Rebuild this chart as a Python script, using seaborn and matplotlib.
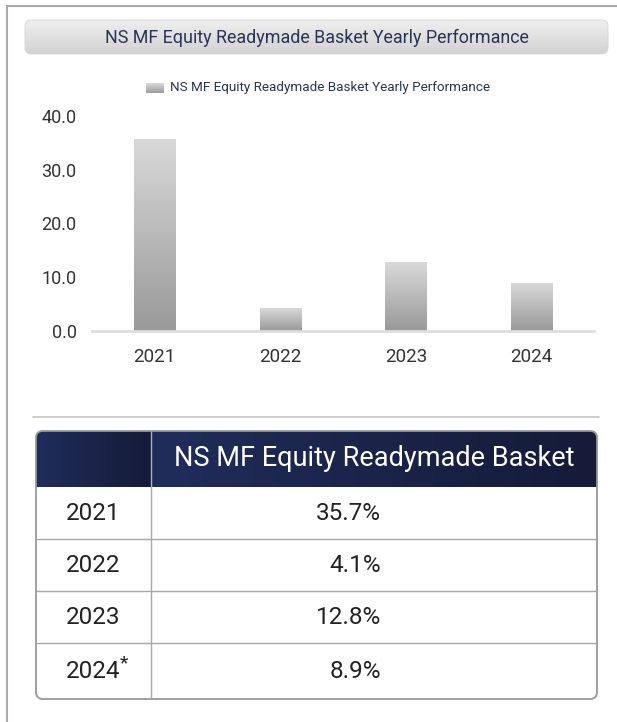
import numpy as np
import pandas as pd
import seaborn as sns
import matplotlib.pyplot as plt
from matplotlib.patches import FancyBboxPatch

# --- data ---
years = ["2021", "2022", "2023", "2024"]
returns = [35.7, 4.1, 12.8, 8.9]
table_years = ["2021", "2022", "2023", "2024"]
table_notes = ["", "", "", "*"]
table_values = ["35.7%", "4.1%", "12.8%", "8.9%"]
series_name = "NS MF Equity Readymade Basket Yearly Performance"
column_name = "NS MF Equity Readymade Basket"
y_ticks = [0, 10, 20, 30, 40]

sns.set_style("white")
plt.rcParams["font.family"] = ["Roboto", "DejaVu Sans"]

W, H = 617, 722
NAVY = "#2b3356"


def vgrad(c_top, c_bot, n=256):
    a = np.array(plt.matplotlib.colors.to_rgb(c_top))
    b = np.array(plt.matplotlib.colors.to_rgb(c_bot))
    t = np.linspace(0, 1, n)[:, None]
    return (a + (b - a) * t)[:, None, :]


def hgrad(c_left, c_right, n=256):
    return vgrad(c_left, c_right, n).transpose(1, 0, 2)


fig = plt.figure(figsize=(W / 100, H / 100), dpi=100)

# background layer in pixel coordinates
bg = fig.add_axes([0, 0, 1, 1])
bg.set_xlim(0, W)
bg.set_ylim(H, 0)
bg.axis("off")

# outer frame (only top and left visible)
bg.plot([7, W + 5], [5.5, 5.5], color="#aaaaaa", lw=1.5, solid_capstyle="butt")
bg.plot([7, 7], [5, H + 5], color="#aaaaaa", lw=1.5, solid_capstyle="butt")

# title box
tbox = FancyBboxPatch((25, 20), 583, 34, boxstyle="round,pad=0,rounding_size=6",
                      facecolor="none", edgecolor="#d6d6d6", lw=0.6, zorder=2)
bg.add_patch(tbox)
im = bg.imshow(vgrad("#efefef", "#d2d2d2"), extent=(25, 608, 54, 20),
               aspect="auto", zorder=1, interpolation="bilinear")
im.set_clip_path(tbox)
bg.text(316.5, 37.5, series_name, ha="center", va="center",
        fontsize=12.9, color=NAVY, zorder=3)

# legend
bg.imshow(vgrad("#dadada", "#9c9c9c"), extent=(146, 164, 93, 83),
          aspect="auto", zorder=1, interpolation="bilinear")
bg.text(170, 88, series_name, ha="left", va="center", fontsize=9.7, color=NAVY)

# divider
bg.plot([33, 599], [417, 417], color="#c4c4c4", lw=1.2)

# table
tx0, tx1, ty0, ty1 = 36, 597, 431, 699
col_x = 151
row_edges = [431, 487, 539, 591, 643, 699]
tab = FancyBboxPatch((tx0, ty0), tx1 - tx0, ty1 - ty0,
                     boxstyle="round,pad=0,rounding_size=7",
                     facecolor="white", edgecolor="#a0a0a0", lw=1.2, zorder=1)
bg.add_patch(tab)
for a, b in [(tx0, col_x), (col_x, tx1)]:
    hi = bg.imshow(hgrad("#202d5b", "#151b38"), extent=(a, b, row_edges[1], ty0),
                   aspect="auto", zorder=2, interpolation="bilinear")
    hi.set_clip_path(tab)
bg.plot([col_x, col_x], [ty0, row_edges[1]], color="#aeb2c0", lw=1.0, zorder=3)
bg.plot([col_x, col_x], [row_edges[1], ty1], color="#a8a8a8", lw=1.0, zorder=3)
for yy in row_edges[2:-1]:
    bg.plot([tx0, tx1], [yy, yy], color="#a8a8a8", lw=1.0, zorder=3)
bg.add_patch(FancyBboxPatch((tx0, ty0), tx1 - tx0, ty1 - ty0,
                            boxstyle="round,pad=0,rounding_size=7",
                            facecolor="none", edgecolor="#a0a0a0", lw=1.2, zorder=4))
bg.text((col_x + tx1) / 2, 459, column_name, ha="center", va="center",
        fontsize=19.5, color="white", zorder=5)
for i, (yr, note, val) in enumerate(zip(table_years, table_notes, table_values)):
    yc = (row_edges[i + 1] + row_edges[i + 2]) / 2 + 1
    bg.text((tx0 + col_x) / 2, yc, yr, ha="center", va="center",
            fontsize=17.5, color="#222222", zorder=5)
    if note:
        bg.text(119.5, yc - 9, note, ha="left", va="center",
                fontsize=14, color="#222222", zorder=5)
    bg.text(381, yc, val, ha="right", va="center",
            fontsize=17.5, color="#222222", zorder=5)

# bar chart
ax = fig.add_axes([92 / W, 1 - 331 / H, (594 - 92) / W, (331 - 116) / H])
ax.set_facecolor("none")
df = pd.DataFrame({"year": years, "ret": returns})
sns.barplot(data=df, x="year", y="ret", ax=ax, width=0.33, color="#bbbbbb")
for p in ax.patches:
    x0, w, h = p.get_x(), p.get_width(), p.get_height()
    ax.imshow(vgrad("#d9d9d9", "#999999"), extent=(x0, x0 + w, 0, h),
              aspect="auto", zorder=2, interpolation="bilinear")
    p.set_visible(False)
ax.set_xlim(-0.5, 3.5)
ax.set_ylim(0, 40)
ax.set_yticks(y_ticks)
ax.set_yticklabels([f"{v:.1f}" for v in y_ticks])
ax.set_xlabel("")
ax.set_ylabel("")
for s in ["top", "right", "left"]:
    ax.spines[s].set_visible(False)
ax.spines["bottom"].set_color("#dddddd")
ax.spines["bottom"].set_linewidth(2)
ax.tick_params(axis="y", length=0, pad=11, labelsize=13, labelcolor="#333333")
ax.tick_params(axis="x", length=0, pad=12, labelsize=13.5, labelcolor="#333333")

fig.savefig("out.png", dpi=100)
